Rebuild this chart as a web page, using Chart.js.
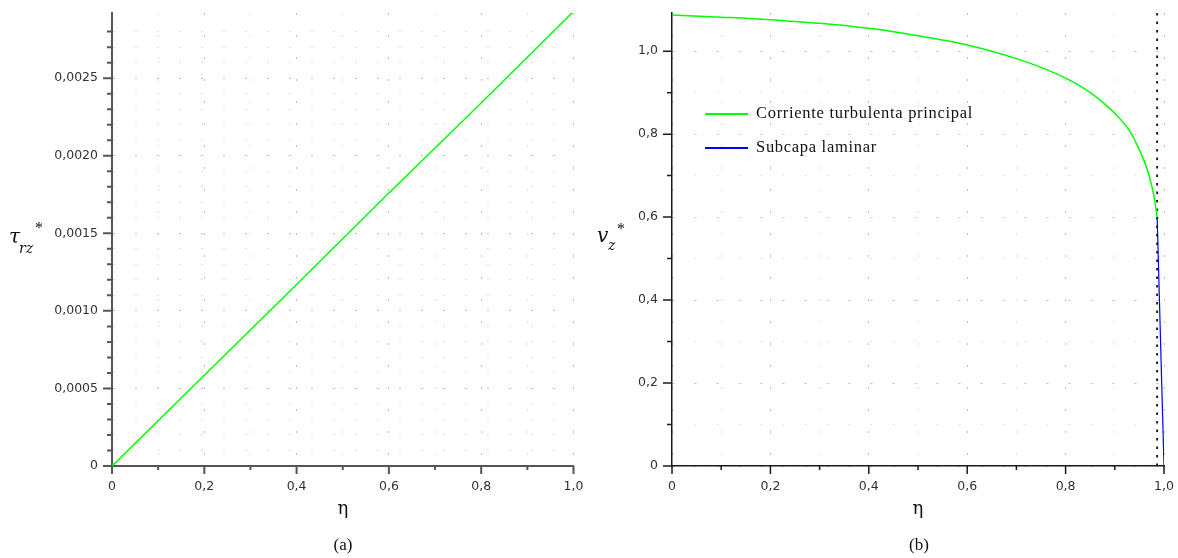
<!DOCTYPE html>
<html>
<head>
<meta charset="utf-8">
<script src="https://cdn.jsdelivr.net/npm/chart.js@4/dist/chart.umd.min.js"></script>
<style>
  body { margin: 0; background: #fff; }
  #wrap { position: relative; width: 1178px; height: 558px; overflow: hidden; }
  canvas { position: absolute; top: 0; }
  .lbl { position: absolute; line-height: 1; white-space: nowrap; color: #111; }
  .serif { font-family: "Liberation Serif", "Times New Roman", serif; }
  .dserif { font-family: "DejaVu Serif", serif; }
  .center { width: 100px; text-align: center; }
  .key { position: absolute; height: 1.5px; width: 43px; }
</style>
</head>
<body>
<div id="wrap">
  <canvas id="shearChart" width="590" height="558" style="left:0"></canvas>
  <canvas id="velChart" width="588" height="558" style="left:590px"></canvas>

  <!-- left panel titles -->
  <span class="lbl dserif" style="left:9px;top:226px;font-size:20px;font-style:italic">τ</span>
  <span class="lbl dserif" style="left:19px;top:241px;font-size:14px;font-style:italic">rz</span>
  <span class="lbl serif" style="left:35px;top:220px;font-size:16px">*</span>
  <span class="lbl dserif center" style="left:293px;top:499px;font-size:18px">η</span>
  <span class="lbl serif center" style="left:293px;top:536px;font-size:17px">(a)</span>

  <!-- right panel titles -->
  <span class="lbl dserif" style="left:597px;top:225px;font-size:20px;font-style:italic">v</span>
  <span class="lbl dserif" style="left:608px;top:238px;font-size:14px;font-style:italic">z</span>
  <span class="lbl serif" style="left:617px;top:221px;font-size:16px">*</span>
  <span class="lbl dserif center" style="left:868px;top:499px;font-size:18px">η</span>
  <span class="lbl serif center" style="left:869px;top:536px;font-size:17px">(b)</span>

  <div id="legend"></div>
</div>

<script>
// (a) shear stress vs. eta
const shearEta = [0, 0.2, 0.4, 0.6, 0.8, 1.0];
const shearTau = [0, 0.000585, 0.00117, 0.00176, 0.00234, 0.00293];

// (b) velocity profile: turbulent core and laminar sublayer
const coreEta = [0, 0.1, 0.2, 0.3, 0.35, 0.4, 0.45, 0.5, 0.55, 0.6, 0.65, 0.7, 0.75, 0.8,
                 0.843, 0.87, 0.9, 0.93, 0.95, 0.965, 0.975, 0.981, 0.986];
const coreV = [1.087, 1.082, 1.076, 1.067, 1.062, 1.055, 1.047, 1.037, 1.027, 1.015, 1.000, 0.982, 0.961, 0.935,
               0.906, 0.882, 0.850, 0.808, 0.762, 0.718, 0.676, 0.641, 0.600];
const subEta = [0.986, 0.9884, 0.9907, 0.993, 0.9953, 0.9977, 1.0];
const subV = [0.600, 0.500, 0.400, 0.300, 0.200, 0.100, 0];
const wallEta = 0.986;

const seriesLabels = ['Corriente turbulenta principal', 'Subcapa laminar'];
const xTicks = { step: 0.1, major: 0.2 };
const tauTicks = { step: 0.0001, major: 0.0005, max: 0.00292, digits: 4 };
const velTicks = { step: 0.1, major: 0.2, max: 1.092, digits: 1 };

Chart.defaults.font.family = 'DejaVu Sans';
Chart.defaults.font.size = 12.5;
Chart.defaults.color = '#333';

function isMultiple(v, step) {
    const r = v / step;
    return Math.abs(r - Math.round(r)) < 1e-6;
}

function fmt(v, digits) {
    if (Math.abs(v) < 1e-12) return '0';
    return v.toFixed(digits).replace('.', ',');
}

function toPoints(xs, ys) {
    return xs.map((x, i) => ({ x: x, y: ys[i] }));
}

// short/long tick marks, drawn outside the plot area
const tickMarks = {
    id: 'tickMarks',
    afterDraw(chart, args, opts) {
        const ctx = chart.ctx;
        const xs = chart.scales.x, ys = chart.scales.y;
        ctx.save();
        ctx.strokeStyle = opts.color;
        ctx.lineWidth = opts.width;
        ctx.beginPath();
        xs.ticks.forEach((t, i) => {
            const px = xs.getPixelForTick(i);
            const len = isMultiple(t.value, opts.xMajor) ? 8 : 4;
            ctx.moveTo(px, xs.top);
            ctx.lineTo(px, xs.top + len);
        });
        ys.ticks.forEach((t, i) => {
            const py = ys.getPixelForTick(i);
            const len = isMultiple(t.value, opts.yMajor) ? 9 : 5;
            ctx.moveTo(ys.right, py);
            ctx.lineTo(ys.right - len, py);
        });
        ctx.stroke();
        ctx.restore();
    }
};

function axis(cfg, axisColor, axisWidth, fitSize, horizontal) {
    return {
        type: 'linear',
        min: 0,
        max: cfg.max !== undefined ? cfg.max : 1,
        afterBuildTicks: s => { s.ticks = s.ticks.filter(t => isMultiple(t.value, cfg.step)); },
        afterFit: s => {
            // fixed axis box, no extra room for overhanging labels
            if (horizontal) s.height = fitSize; else s.width = fitSize;
            s.paddingTop = s.paddingBottom = s.paddingLeft = s.paddingRight = 0;
        },
        ticks: {
            stepSize: cfg.step,
            autoSkip: false,
            maxRotation: 0,
            padding: horizontal ? 13 : 14,
            callback: v => isMultiple(v, cfg.major) ? fmt(v, cfg.digits !== undefined ? cfg.digits : 1) : ''
        },
        grid: {
            drawTicks: false,
            lineWidth: 1,
            borderDash: [2, 20],
            color: c => (c.tick && isMultiple(c.tick.value, cfg.major)) ? '#bdbdbd' : '#e0e0e0'
        },
        border: { color: axisColor, width: axisWidth, dash: [2, 20] }
    };
}

function makeChart(id, datasets, yCfg, axisColor, axisWidth, yWidth, padRight) {
    return new Chart(document.getElementById(id), {
        type: 'scatter',
        data: { datasets: datasets },
        options: {
            responsive: false,
            animation: false,
            layout: { padding: { top: 13, right: padRight, left: 0, bottom: 0 } },
            plugins: {
                legend: { display: false },
                tooltip: { enabled: false },
                tickMarks: { color: axisColor, width: axisWidth, xMajor: xTicks.major, yMajor: yCfg.major }
            },
            scales: {
                x: axis(xTicks, axisColor, axisWidth, 92, true),
                y: axis(yCfg, axisColor, axisWidth, yWidth, false)
            }
        },
        plugins: [tickMarks]
    });
}

const lineStyle = { showLine: true, pointRadius: 0, borderWidth: 1.5, fill: false };

makeChart('shearChart', [
    Object.assign({ data: toPoints(shearEta, shearTau), borderColor: '#00ff00' }, lineStyle)
], tauTicks, '#555', 2, 112, 16.5);

const velChart = makeChart('velChart', [
    Object.assign({ label: seriesLabels[0], data: toPoints(coreEta, coreV), borderColor: '#00ff00',
                    cubicInterpolationMode: 'monotone' }, lineStyle),
    Object.assign({ label: seriesLabels[1], data: toPoints(subEta, subV), borderColor: '#0000ff' }, lineStyle, { borderWidth: 1.2 }),
    Object.assign({ data: [{ x: wallEta, y: 0 }, { x: wallEta, y: velTicks.max }], borderColor: '#222',
                    borderDash: [2.5, 6] }, lineStyle, { borderWidth: 2 })
], velTicks, '#1a1a1a', 1.5, 82, 14);

// legend inside panel (b), built from the labelled datasets
const legend = document.getElementById('legend');
velChart.data.datasets.filter(d => d.label).forEach((d, i) => {
    const y = 114 + i * 34;
    const key = document.createElement('div');
    key.className = 'key';
    key.style.left = '705px';
    key.style.top = (y - 0.75) + 'px';
    key.style.background = d.borderColor;
    legend.appendChild(key);
    const txt = document.createElement('span');
    txt.className = 'lbl serif';
    txt.style.left = '756px';
    txt.style.top = (y - 8.8) + 'px';
    txt.style.fontSize = '16.5px';
    txt.style.letterSpacing = '0.7px';
    txt.textContent = d.label;
    legend.appendChild(txt);
});
</script>
</body>
</html>
